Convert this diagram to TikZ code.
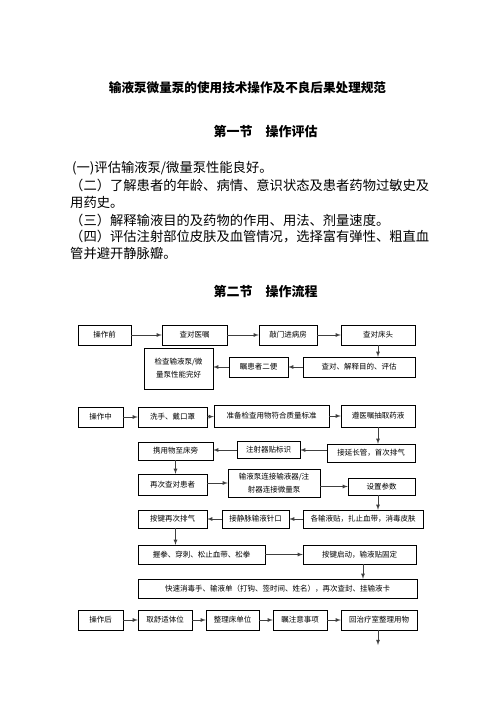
\documentclass[tikz,border=0pt]{standalone}
\usepackage{fontspec}
\setmainfont{Noto Sans CJK SC}
\usetikzlibrary{arrows}
\tikzset{
    stepbox/.style={
           rectangle,
           draw=black, thin,
           inner sep=1pt,
           font=\fontsize{7.5}{13}\selectfont,
           align=center,
           },
}
\tikzset{
    flow/.style={
           -latex,
           draw=black!75, line width=0.8pt,
           },
}
\tikzset{
    para/.style={
           anchor=west,
           inner sep=0pt,
           font=\fontsize{13.3}{17}\selectfont,
           },
}
\tikzset{
    head/.style={
           inner sep=0pt,
           font=\bfseries\fontsize{13}{15}\selectfont,
           },
}
\begin{document}
\begin{tikzpicture}[x=1pt,y=-1pt]
\useasboundingbox (0,0) rectangle (496,702);
% headings and text
\node[head,font=\bfseries\fontsize{12.6}{15}\selectfont](title) at (247.5,88){输液泵微量泵的使用技术操作及不良后果处理规范};
\node[head](sec1) at (265.5,132){第一节\quad 操作评估};
\node[para](p1) at (72,168){(一)评估输液泵/微量泵性能良好。};
\node[para](p2) at (70,185){（二）了解患者的年龄、病情、意识状态及患者药物过敏史及};
\node[para](p2b) at (70,202){用药史。};
\node[para](p3) at (70,220){（三）解释输液目的及药物的作用、用法、剂量速度。};
\node[para](p4) at (70,237){（四）评估注射部位皮肤及血管情况，选择富有弹性、粗直血};
\node[para](p4b) at (70,253){管并避开静脉瓣。};
\node[head](sec2) at (265.5,292){第二节\quad 操作流程};
% before
\node[stepbox,minimum width=53pt,minimum height=20pt](qian) at (104.5,335){操作前};
\node[stepbox,minimum width=65pt,minimum height=20pt](yz) at (194.5,335){查对医嘱};
\node[stepbox,minimum width=58pt,minimum height=20pt](qm) at (288,335){敲门进病房};
\node[stepbox,minimum width=74pt,minimum height=20pt](ct) at (378,335){查对床头};
\node[stepbox,minimum width=112pt,minimum height=20pt](jspg) at (359,367){查对、解释目的、评估};
\node[stepbox,minimum width=59pt,minimum height=20pt](eb) at (258.5,367){瞩患者二便};
\node[stepbox,minimum width=69pt,minimum height=41pt](jcb) at (178.5,368.5){检查输液泵/微\\量泵性能完好};
% during
\node[stepbox,minimum width=45pt,minimum height=20pt](zhong) at (100.5,417){操作中};
\node[stepbox,minimum width=69pt,minimum height=20pt](xs) at (172.5,417){洗手、戴口罩};
\node[stepbox,minimum width=115pt,minimum height=22pt](zb) at (271.5,416){准备检查用物符合质量标准};
\node[stepbox,minimum width=74pt,minimum height=22pt](cq) at (378,416){遵医嘱抽取药液};
\node[stepbox,minimum width=88pt,minimum height=18pt](ycg) at (371,453){接延长管，首次排气};
\node[stepbox,minimum width=63pt,minimum height=17pt](bs) at (268.5,450){注射器贴标识};
\node[stepbox,minimum width=75pt,minimum height=18pt](xyw) at (175.5,451){携用物至床旁};
\node[stepbox,minimum width=69pt,minimum height=21pt](zcdz) at (172.5,484.5){再次查对患者};
\node[stepbox,minimum width=92pt,minimum height=28pt](lj) at (274,483){输液泵连接输液器/注\\射器连接微量泵};
\node[stepbox,minimum width=67pt,minimum height=17pt](szcs) at (381.5,486.5){设置参数};
\node[stepbox,minimum width=120pt,minimum height=18pt](gsyt) at (363,519){各输液贴，扎止血带，消毒皮肤};
\node[stepbox,minimum width=67pt,minimum height=18pt](jm) at (255.5,519){接静脉输液针口};
\node[stepbox,minimum width=69pt,minimum height=18pt](pq) at (172.5,519){按键再次排气};
\node[stepbox,minimum width=127pt,minimum height=19pt](wq) at (201.5,554.5){握拳、穿刺、松止血带、松拳};
\node[stepbox,minimum width=113pt,minimum height=19pt](qd) at (359.5,554.5){按键启动，输液贴固定};
\node[stepbox,minimum width=279pt,minimum height=19pt](xd) at (277.5,588.5){快速消毒手、输液单（打钩、签时间、姓名），再次查封、挂输液卡};
% after
\node[stepbox,minimum width=45pt,minimum height=20pt](hou) at (100.5,620){操作后};
\node[stepbox,minimum width=54pt,minimum height=20pt](tw) at (165,620){取舒适体位};
\node[stepbox,minimum width=53pt,minimum height=20pt](cd) at (232.5,620){整理床单位};
\node[stepbox,minimum width=54pt,minimum height=20pt](zy) at (300,620){瞩注意事项};
\node[stepbox,minimum width=76pt,minimum height=20pt](hz) at (379,620){回治疗室整理用物};
\coordinate (hzend) at (378,645);
% arrows
\draw[flow] (qian) -- (yz);
\draw[flow] (yz) -- (qm);
\draw[flow] (qm) -- (ct);
\draw[flow] (ct) -- (ct |- jspg.north);
\draw[flow] (jspg) -- (eb);
\draw[flow] (eb.west) -- (jcb.east |- eb.west);
\draw[flow] (zhong) -- (xs);
\draw[flow] (xs) -- (zb);
\draw[flow] (zb) -- (cq);
\draw[flow] (cq) -- (cq |- ycg.north);
\draw[flow] (ycg.west |- bs) -- (bs);
\draw[flow] (bs) -- (bs -| xyw.east);
\draw[flow] (xyw) -- (xyw |- zcdz.north);
\draw[flow] (zcdz.east |- lj) -- (lj);
\draw[flow] (lj.east |- szcs.west) -- (szcs);
\draw[flow] ([xshift=-3.5pt]szcs.south) -- ([xshift=-3.5pt]szcs.south |- gsyt.north);
\draw[flow] (gsyt) -- (jm);
\draw[flow] (jm) -- (pq);
\draw[flow] (xyw.south |- pq.south) -- (xyw.south |- wq.north);
\draw[flow] (wq) -- (qd);
\draw[flow] ([xshift=3.5pt]qd.south) -- ([xshift=3.5pt]qd.south |- xd.north);
\draw[flow] (hou) -- (tw);
\draw[flow] (tw) -- (cd);
\draw[flow] (cd) -- (zy);
\draw[flow] (zy) -- (hz);
\draw[flow] (hz.south -| hzend) -- (hzend);
\end{tikzpicture}
\end{document}
